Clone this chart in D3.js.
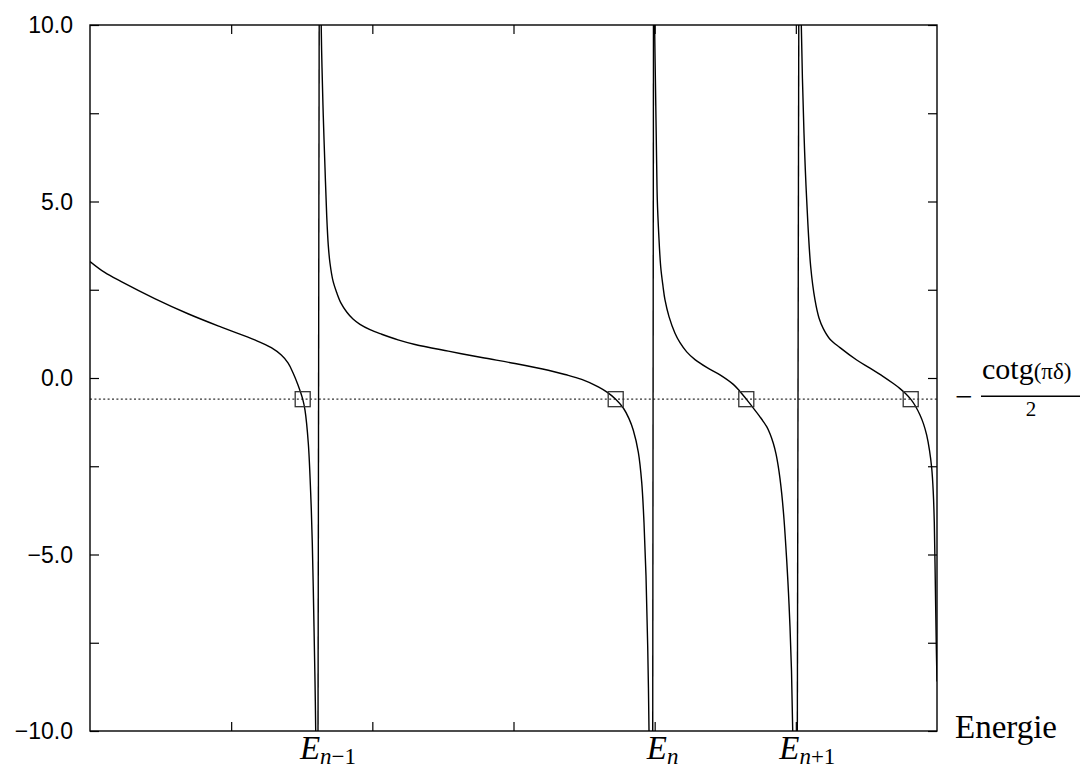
<!DOCTYPE html>
<html><head><meta charset="utf-8">
<script src="https://cdn.jsdelivr.net/npm/d3@7"></script>
<style>body{margin:0;background:#fff} svg{display:block}</style>
</head><body>
<svg id="chart" width="1083" height="770"></svg>
<script>
// ---------- data ----------
const xDomain = [0, 6];
const yDomain = [-10, 10];
const yTickValues = [-10, -7.5, -5, -2.5, 0, 2.5, 5, 7.5, 10];
const yLabelValues = [-10, -5, 0, 5, 10];
const yLabels = ["\u221210.0", "\u22125.0", "0.0", "5.0", "10.0"];
const xTickValues = [1, 2, 3, 4, 5];
const levelValues = [1.6151, 3.9861, 5.0104];
const levelSubs = ["n\u22121", "n", "n+1"];
const jumpBottomX = [1.6151, 3.9861, 5.0104];
const jumpTopX = [1.6236, 3.9917, 5.0210];
const thresholdValue = -0.6;
const crossingX = [1.5067, 3.7240, 4.6491, 5.8137];

const branch1X = [0, 0.10413, 0.22172, 0.45832, 0.69422, 0.93011, 1.16671, 1.28430, 1.35514, 1.40260, 1.43802, 1.47344, 1.50673, 1.52302, 1.54640, 1.56340, 1.57474, 1.58678, 1.59386, 1.59882, 1.60236];
const branch1Y = [3.30, 2.99, 2.73, 2.25, 1.82, 1.44, 1.08, 0.86, 0.65, 0.43, 0.15, -0.20, -0.60, -0.91, -1.85, -3.27, -4.68, -7.05, -8.60, -9.97, -12];

const branch2X = [1.63636, 1.63778, 1.64345, 1.65266, 1.66470, 1.67674, 1.68808, 1.70012, 1.72137, 1.74758, 1.77804, 1.81842, 1.86305, 1.91263, 1.98347, 2.06635, 2.18182, 2.30224, 2.53814, 2.77474, 3.01063, 3.24652, 3.36482, 3.48312, 3.60071, 3.66234, 3.72397, 3.77781, 3.81818, 3.84864, 3.88406, 3.90815, 3.92444, 3.93861, 3.95065, 3.95986, 3.96269];
const branch2Y = [12, 10.0, 8.8, 7.4, 5.95, 4.6, 3.75, 3.25, 2.75, 2.42, 2.12, 1.87, 1.67, 1.52, 1.37, 1.24, 1.08, 0.95, 0.76, 0.58, 0.41, 0.22, 0.10, -0.04, -0.25, -0.40, -0.60, -0.85, -1.15, -1.48, -2.10, -2.95, -4.10, -5.60, -7.60, -9.97, -12];

const branch3X = [3.99528, 3.99953, 4.00732, 4.01441, 4.01866, 4.02858, 4.04274, 4.05903, 4.07320, 4.10154, 4.14404, 4.17946, 4.22692, 4.28572, 4.36860, 4.46281, 4.55703, 4.60449, 4.64912, 4.69658, 4.74617, 4.79363, 4.81700, 4.84038, 4.85951, 4.87580, 4.88784, 4.89988, 4.91618, 4.93530, 4.94805, 4.95868, 4.96931, 4.97781, 4.98064];
const branch3Y = [12, 10.0, 7.88, 5.99, 5.04, 4.10, 3.15, 2.60, 2.21, 1.74, 1.27, 1.00, 0.74, 0.52, 0.30, 0.09, -0.18, -0.38, -0.60, -0.84, -1.10, -1.38, -1.58, -1.85, -2.15, -2.51, -2.85, -3.27, -4.00, -5.16, -6.10, -7.05, -8.30, -9.97, -12];

const branch4X = [5.03519, 5.03873, 5.05784, 5.07697, 5.10530, 5.13576, 5.16409, 5.19455, 5.24203, 5.31287, 5.43117, 5.52539, 5.61961, 5.68832, 5.73790, 5.77686, 5.81370, 5.84770, 5.87958, 5.90437, 5.92704, 5.94688, 5.96246, 5.97309, 5.98088, 5.98797, 5.99505, 6.0];
const branch4Y = [12, 10.0, 6.93, 5.04, 3.15, 2.21, 1.70, 1.40, 1.10, 0.86, 0.51, 0.28, 0.04, -0.15, -0.30, -0.44, -0.60, -0.80, -1.05, -1.30, -1.62, -2.05, -2.55, -3.20, -4.10, -5.80, -7.60, -8.60];

// ---------- layout ----------
const W = 1083, H = 770;
const M = {left: 90, right: 146, top: 25, bottom: 39};
const svg = d3.select("#chart");
const x = d3.scaleLinear().domain(xDomain).range([M.left, W - M.right]);
const y = d3.scaleLinear().domain(yDomain).range([H - M.bottom, M.top]);

svg.append("defs").append("clipPath").attr("id", "clip")
  .append("rect").attr("x", x(0)).attr("y", y(10))
  .attr("width", x(6) - x(0)).attr("height", y(-10) - y(10));

// ticks (inward) on all four sides
const tickLen = 9;
const bottomAxis = d3.axisBottom(x).tickValues(xTickValues).tickSize(-tickLen).tickFormat("");
const topAxis = d3.axisTop(x).tickValues(xTickValues).tickSize(-tickLen).tickFormat("");
const leftAxis = d3.axisLeft(y).tickValues(yTickValues).tickSize(-tickLen).tickFormat("");
const rightAxis = d3.axisRight(y).tickValues(yTickValues).tickSize(-tickLen).tickFormat("");
svg.append("g").attr("transform", `translate(0,${y(-10)})`).call(bottomAxis).call(g => g.select(".domain").remove());
svg.append("g").attr("transform", `translate(0,${y(10)})`).call(topAxis).call(g => g.select(".domain").remove());
svg.append("g").attr("transform", `translate(${x(0)},0)`).call(leftAxis).call(g => g.select(".domain").remove());
svg.append("g").attr("transform", `translate(${x(6)},0)`).call(rightAxis).call(g => g.select(".domain").remove());
svg.selectAll(".tick line").attr("stroke", "#000").attr("stroke-width", 1.2);

// y labels
svg.append("g").selectAll("text").data(yLabelValues).join("text")
  .attr("x", x(0) - 17).attr("y", d => y(d)).attr("dy", "0.36em")
  .attr("text-anchor", "end")
  .attr("font-family", "Liberation Sans, Arial, sans-serif").attr("font-size", 23)
  .text((d, i) => yLabels[i]);

// threshold dotted line
svg.append("line")
  .attr("x1", x(0)).attr("x2", x(6)).attr("y1", y(thresholdValue)).attr("y2", y(thresholdValue))
  .attr("stroke", "#333").attr("stroke-width", 1.3).attr("stroke-dasharray", "2,2.4");

// curve branches + vertical jumps at the poles
const plot = svg.append("g").attr("clip-path", "url(#clip)");
const line = d3.line().x(d => x(d[0])).y(d => y(d[1])).curve(d3.curveCatmullRom.alpha(0.5));
const branches = [
  branch1X.map((v, i) => [v, branch1Y[i]]),
  branch2X.map((v, i) => [v, branch2Y[i]]),
  branch3X.map((v, i) => [v, branch3Y[i]]),
  branch4X.map((v, i) => [v, branch4Y[i]])
];
plot.selectAll("path.branch").data(branches).join("path").attr("class", "branch")
  .attr("d", line).attr("fill", "none").attr("stroke", "#000").attr("stroke-width", 1.4);
plot.selectAll("line.jump").data(jumpBottomX).join("line").attr("class", "jump")
  .attr("x1", d => x(d)).attr("y1", y(-10.3))
  .attr("x2", (d, i) => x(jumpTopX[i])).attr("y2", y(10.3))
  .attr("stroke", "#000").attr("stroke-width", 1.4);

// squares at crossings
const sq = 15;
svg.append("g").selectAll("rect").data(crossingX).join("rect")
  .attr("x", d => x(d) - sq / 2).attr("y", y(thresholdValue) - sq / 2)
  .attr("width", sq).attr("height", sq)
  .attr("fill", "none").attr("stroke", "#333").attr("stroke-width", 1.3);

// frame
svg.append("rect").attr("x", x(0)).attr("y", y(10))
  .attr("width", x(6) - x(0)).attr("height", y(-10) - y(10))
  .attr("fill", "none").attr("stroke", "#000").attr("stroke-width", 1.4);

// level labels E_{...}
const serif = "Liberation Serif, Times New Roman, serif";
const lab = svg.append("g").selectAll("text").data(levelValues).join("text")
  .attr("x", d => x(d) + 10).attr("y", 759)
  .attr("text-anchor", "middle").attr("font-family", serif);
lab.append("tspan").attr("font-style", "italic").attr("font-size", 33).text("E");
lab.each(function(d, i) {
  const t = d3.select(this).append("tspan").attr("font-size", 23).attr("dy", 5);
  const s = levelSubs[i];
  t.append("tspan").attr("font-style", "italic").text("n");
  if (s.length > 1) t.append("tspan").text(s.slice(1));
});

// axis title
svg.append("text").attr("x", 955).attr("y", 738)
  .attr("font-family", serif).attr("font-size", 33).text("Energie");

// threshold label: - cotg(πδ) / 2
const tl = svg.append("g").attr("font-family", serif);
tl.append("text").attr("x", 955).attr("y", y(thresholdValue) + 8).attr("font-size", 31).text("\u2212");
const num = tl.append("text").attr("x", 982).attr("y", y(thresholdValue) - 20).attr("font-size", 30);
num.append("tspan").text("cotg");
num.append("tspan").attr("font-size", 23).text("(\u03C0\u03B4)");
tl.append("line").attr("x1", 981).attr("x2", 1080)
  .attr("y1", y(thresholdValue) - 3).attr("y2", y(thresholdValue) - 3)
  .attr("stroke", "#000").attr("stroke-width", 1.6);
tl.append("text").attr("x", 1031).attr("y", y(thresholdValue) + 17)
  .attr("text-anchor", "middle").attr("font-size", 21).text("2");
</script>
</body></html>
